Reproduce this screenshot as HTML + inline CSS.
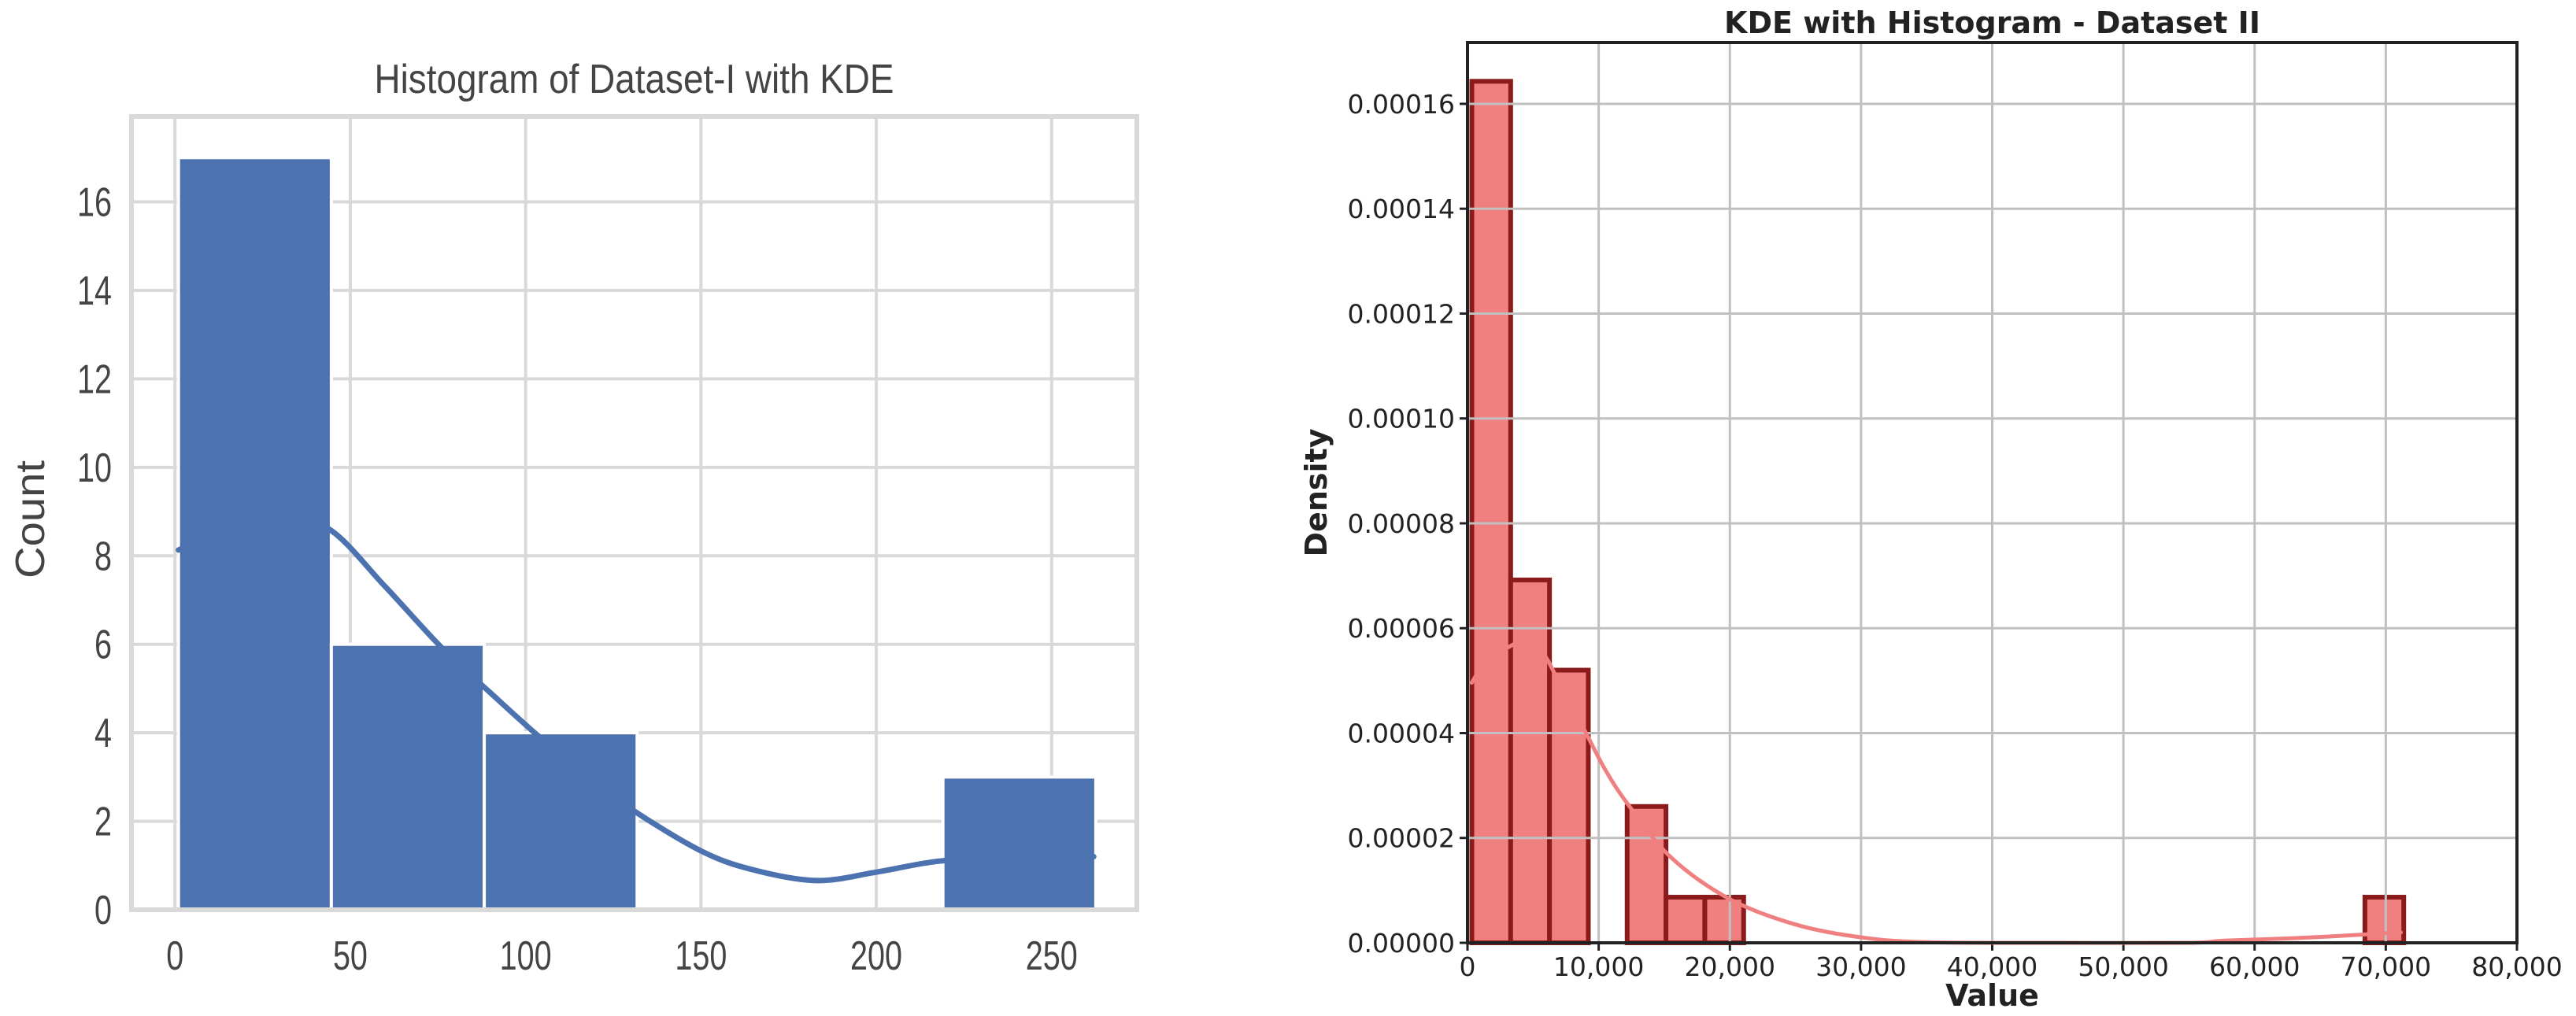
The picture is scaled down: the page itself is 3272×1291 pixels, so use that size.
<!DOCTYPE html>
<html><head><meta charset="utf-8"><style>
html,body{margin:0;padding:0;background:#fff;}
svg{display:block;}
</style></head><body>
<svg id="root" width="3272" height="1291" xmlns="http://www.w3.org/2000/svg">
<g id="left"></g>
<g id="right"></g>
</svg>
<script>
// ---- Left chart data ----
const leftBinEdges = [1, 44.6, 88.2, 131.8, 175.4, 219.0, 262.6];
const leftCounts = [17, 6, 4, 0, 0, 3];
const leftKdeX = [1, 15, 30, 44, 60, 76, 90, 104, 118, 130, 150, 165, 183, 200, 218, 240, 262];
const leftKdeY = [8.13, 8.6, 8.8, 8.6, 7.3, 5.93, 4.9, 3.9, 3.0, 2.28, 1.33, 0.9, 0.66, 0.85, 1.1, 1.2, 1.2];
const leftXTicks = [0, 50, 100, 150, 200, 250];
const leftYTicks = [0, 2, 4, 6, 8, 10, 12, 14, 16];
// ---- Right chart data ----
const rightBinStart = 330;
const rightBinWidth = 2960;
const rightBinIndex = [0, 1, 2, 3, 4, 5, 6, 23];
const rightDensity = [0.0001643, 0.0000692, 0.0000520, 0, 0.0000260, 0.0000087, 0.0000087, 0.0000087];
const rightKdeX = [320, 1500, 3200, 4300, 5770, 7300, 8970, 10500, 12180, 15380, 19870, 25000, 30130, 35256, 45000, 55000, 57700, 64100, 71150];
const rightKdeY = [49.6e-6, 54e-6, 56.5e-6, 57.5e-6, 55.2e-6, 48e-6, 40.3e-6, 33e-6, 26.6e-6, 16.6e-6, 8.5e-6, 3.5e-6, 1.0e-6, 0.1e-6, 0, 0, 0.4e-6, 1.0e-6, 2.0e-6];
const rightXTicks = [0, 10000, 20000, 30000, 40000, 50000, 60000, 70000, 80000];
const rightYTicks = [0, 0.00002, 0.00004, 0.00006, 0.00008, 0.00010, 0.00012, 0.00014, 0.00016];

const NS = 'http://www.w3.org/2000/svg';
function mk(tag, attrs, parent, text){
  const e = document.createElementNS(NS, tag);
  for (const k in attrs) e.setAttribute(k, attrs[k]);
  if (text !== undefined) e.textContent = text;
  parent.appendChild(e);
  return e;
}
function smoothPath(pts){
  let d = 'M' + pts[0][0].toFixed(1) + ',' + pts[0][1].toFixed(1);
  for (let i = 0; i < pts.length - 1; i++){
    const p0 = pts[Math.max(0, i-1)], p1 = pts[i], p2 = pts[i+1], p3 = pts[Math.min(pts.length-1, i+2)];
    const c1x = p1[0] + (p2[0]-p0[0])/6, c1y = p1[1] + (p2[1]-p0[1])/6;
    const c2x = p2[0] - (p3[0]-p1[0])/6, c2y = p2[1] - (p3[1]-p1[1])/6;
    d += ' C' + c1x.toFixed(1)+','+c1y.toFixed(1)+' '+c2x.toFixed(1)+','+c2y.toFixed(1)+' '+p2[0].toFixed(1)+','+p2[1].toFixed(1);
  }
  return d;
}

// ===== LEFT =====
(function(){
  const g = document.getElementById('left');
  const L=167, R=1444, T=148, B=1156;
  const xmin=-12.4, xmax=274.3, ymin=0, ymax=17.93;
  const sx = v => L + (v - xmin) / (xmax - xmin) * (R - L);
  const sy = v => B - (v - ymin) / (ymax - ymin) * (B - T);
  const font = '"Liberation Sans Narrow","Liberation Sans",sans-serif';
  leftXTicks.forEach(t => {
    const l = mk('line', {x1:sx(t), x2:sx(t), y1:T, y2:B, stroke:'#d9d9d9', 'stroke-width':4}, g);
    
    
    const s = String(t);
    const tx = mk('text', {x:sx(t), y:1232, 'text-anchor':'middle', 'font-family':font, 'font-size':52, fill:'#444', textLength:s.length*22, lengthAdjust:'spacingAndGlyphs'}, g, s);
    
    
  });
  leftYTicks.forEach(t => {
    const l = mk('line', {x1:L, x2:R, y1:sy(t), y2:sy(t), stroke:'#d9d9d9', 'stroke-width':4}, g);
    
    
    const s = String(t);
    const tx = mk('text', {x:142, y:sy(t)+18, 'text-anchor':'end', 'font-family':font, 'font-size':52, fill:'#444', textLength:s.length*22, lengthAdjust:'spacingAndGlyphs'}, g, s);
    
    
  });
  leftCounts.forEach((c, i) => {
    if (c <= 0) return;
    const x0 = sx(leftBinEdges[i]), x1 = sx(leftBinEdges[i+1]);
    const r = mk('rect', {x:x0, y:sy(c), width:x1-x0, height:sy(0)-sy(c), fill:'#4c72b0', stroke:'#fff', 'stroke-width':4}, g);
    
    
  });
  const pts = leftKdeX.map((v, i) => [sx(v), sy(leftKdeY[i])]);
  const p = mk('path', {d:smoothPath(pts), fill:'none', stroke:'#4c72b0', 'stroke-width':7, 'stroke-linejoin':'round', 'stroke-linecap':'round'}, g);
  
  
  const f = mk('rect', {x:L, y:T, width:R-L, height:B-T, fill:'none', stroke:'#d9d9d9', 'stroke-width':6}, g);
  
  
  const ti = mk('text', {x:(L+R)/2, y:118, 'text-anchor':'middle', 'font-family':font, 'font-size':52, fill:'#444', textLength:660, lengthAdjust:'spacingAndGlyphs'}, g, 'Histogram of Dataset-I with KDE');
  
  
  const yl = mk('text', {x:0, y:0, transform:'translate(56,660) rotate(-90)', 'text-anchor':'middle', 'font-family':font, 'font-size':52, fill:'#444', textLength:150, lengthAdjust:'spacingAndGlyphs'}, g, 'Count');
  
  
})();

// ===== RIGHT =====
(function(){
  const g = document.getElementById('right');
  const L=1864, R=3197, T=54, B=1198;
  const xmin=0, xmax=80000, ymin=0, ymax=0.0001717;
  const sx = v => L + (v - xmin) / (xmax - xmin) * (R - L);
  const sy = v => B - (v - ymin) / (ymax - ymin) * (B - T);
  const font = '"DejaVu Sans","Liberation Sans",sans-serif';
  rightDensity.forEach((dv, i) => {
    const x0 = sx(rightBinStart + rightBinIndex[i]*rightBinWidth);
    const x1 = sx(rightBinStart + (rightBinIndex[i]+1)*rightBinWidth);
    const r = mk('rect', {x:x0, y:sy(dv), width:x1-x0, height:sy(0)-sy(dv), fill:'#f08080', stroke:'#8b1a1a', 'stroke-width':6}, g);
    
    
  });
  rightXTicks.forEach(t => {
    const l = mk('line', {x1:sx(t), x2:sx(t), y1:T, y2:B, stroke:'#c0c0c0', 'stroke-width':3}, g);
    
    
    const tk = mk('line', {x1:sx(t), x2:sx(t), y1:B, y2:B+10, stroke:'#222', 'stroke-width':3}, g);
    
    
    const tx = mk('text', {x:sx(t), y:1240, 'text-anchor':'middle', 'font-family':font, 'font-size':33, fill:'#222'}, g, t.toLocaleString('en-US'));
    
    
  });
  rightYTicks.forEach(t => {
    const l = mk('line', {x1:L, x2:R, y1:sy(t), y2:sy(t), stroke:'#c0c0c0', 'stroke-width':3}, g);
    
    
    const tk = mk('line', {x1:L-10, x2:L, y1:sy(t), y2:sy(t), stroke:'#222', 'stroke-width':3}, g);
    
    
    const tx = mk('text', {x:L-16, y:sy(t)+12, 'text-anchor':'end', 'font-family':font, 'font-size':33, fill:'#222'}, g, t.toFixed(5));
    
    
  });
  const pts = rightKdeX.map((v, i) => [sx(v), sy(rightKdeY[i])]);
  const p = mk('path', {d:smoothPath(pts), fill:'none', stroke:'#f08080', 'stroke-width':5, 'stroke-linejoin':'round', 'stroke-linecap':'round'}, g);
  
  
  const f = mk('rect', {x:L, y:T, width:R-L, height:B-T, fill:'none', stroke:'#222', 'stroke-width':4}, g);
  
  
  const ti = mk('text', {x:(L+R)/2, y:42, 'text-anchor':'middle', 'font-family':font, 'font-weight':'bold', 'font-size':38, fill:'#222'}, g, 'KDE with Histogram - Dataset II');
  
  
  const xl = mk('text', {x:(L+R)/2, y:1278, 'text-anchor':'middle', 'font-family':font, 'font-weight':'bold', 'font-size':38, fill:'#222'}, g, 'Value');
  
  
  const yl = mk('text', {x:0, y:0, transform:'translate(1685,626) rotate(-90)', 'text-anchor':'middle', 'font-family':font, 'font-weight':'bold', 'font-size':38, fill:'#222'}, g, 'Density');
  
  
})();
</script>
</body></html>
